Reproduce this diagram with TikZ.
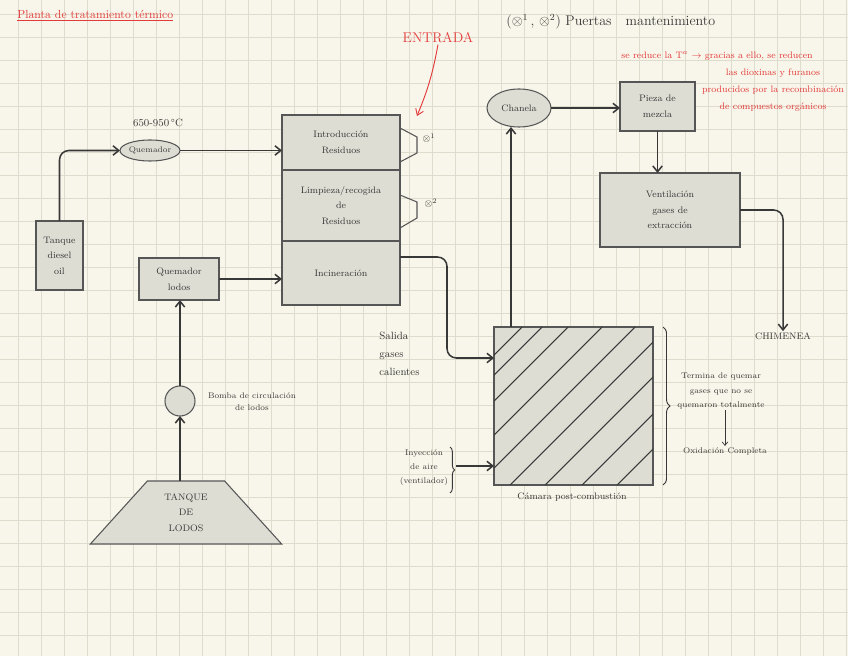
\documentclass[tikz,border=0pt]{standalone}
\usepackage{fontspec}
\usepackage{tikz}
\usetikzlibrary{shapes.geometric,arrows.meta,positioning,calc,decorations.pathreplacing}
\usepackage{xcolor}
\definecolor{PaperBg}{HTML}{F8F6EA}
\definecolor{GridLine}{HTML}{DEDCCC}
\definecolor{BoxFill}{HTML}{DEDDD4}
\definecolor{InkGrey}{HTML}{383838}
\definecolor{NoteRed}{HTML}{E23B3B}

\begin{document}
\begin{tikzpicture}[x=0.03cm,y=-0.03cm,
  unit/.style={draw=InkGrey!85,line width=0.9pt,fill=BoxFill,align=center,
               font={\footnotesize\linespread{1.4}\selectfont},text=InkGrey,
               inner sep=0pt,outer sep=0pt},
  hand/.style={align=center,font={\footnotesize\linespread{1.4}\selectfont},
               text=InkGrey,inner sep=1pt},
  note/.style={align=center,font=\footnotesize,text=NoteRed,inner sep=1pt},
  flow/.style={draw=InkGrey,line width=1.3pt,rounded corners=8pt,
               -{Straight Barb[length=5pt,width=8pt]}},
]
% paper
\useasboundingbox (0,0) rectangle (848,656);
\fill[PaperBg] (0,0) rectangle (848,656);
\foreach \gx in {18.3,41.3,...,848} \draw[GridLine,line width=0.5pt] (\gx,0) -- (\gx,656);
\foreach \gy in {14,37,...,656} \draw[GridLine,line width=0.5pt] (0,\gy) -- (848,\gy);

% headings
\node[note,font=\normalsize,anchor=west] (title) at (16,16) {\underline{Planta de tratamiento térmico}};
\node[hand,font=\large,anchor=west] (legend) at (505,22) {($\otimes^1$\,, $\otimes^2$) Puertas\quad mantenimiento};
\node[note,font=\large] (entry) at (438,38) {ENTRADA};
\node[note,anchor=west] (cool1) at (620,56) {se reduce la T$^{a}$ $\rightarrow$ gracias a ello, se reducen};
\node[note,font={\footnotesize\linespread{1.5}\selectfont}] (cool2) at (773,90) {las dioxinas y furanos\\producidos por la recombinación\\de compuestos orgánicos};

% burner line
\node[unit,minimum width=1.41cm,minimum height=2.07cm] (diesel) at (59.5,255.5) {Tanque\\diesel\\oil};
\node[unit,ellipse,minimum width=1.44cm,minimum height=0.63cm,font=\scriptsize] (burner) at (150,150.5) {Quemador};
\node[hand,font=\small] (temp) at (158,123) {650-950\,°C};

% furnace
\node[unit,minimum width=3.54cm,minimum height=1.65cm] (intro) at (341,142.5) {Introducción\\Residuos};
\node[unit,minimum width=3.54cm,minimum height=2.13cm,below=0pt of intro] (clean) {Limpieza/recogida\\de\\Residuos};
\node[unit,minimum width=3.54cm,minimum height=1.92cm,below=0pt of clean] (incin) {Incineración};
\draw[draw=InkGrey!85,line width=0.9pt] (intro.east) ++(0,-14.5) -- ++(17,9) -- ++(0,16) -- ++(-17,9);
\draw[draw=InkGrey!85,line width=0.9pt] (clean.east) ++(0,-10.5) -- ++(17,7) -- ++(0,16) -- ++(-17,10);
\node[hand] (door1) at (429,138) {$\otimes^1$};
\node[hand] (door2) at (431,203) {$\otimes^2$};

% sludge line
\node[unit,minimum width=2.4cm,minimum height=1.26cm] (sludgeburner) at (179,279) {Quemador\\lodos};
\node[unit,circle,minimum size=0.9cm] (pump) at (180,401) {};
\node[hand,font={\scriptsize\linespread{1.3}\selectfont}] (pumplabel) at (252,402) {Bomba de circulación\\de lodos};
\node[unit,trapezium,trapezium left angle=50,trapezium right angle=50,trapezium stretches=true,
      minimum width=5.76cm,minimum height=1.89cm] (tank) at (186,512.5) {TANQUE\\DE\\LODOS};

% post-combustion
\node[unit,minimum width=4.77cm,minimum height=4.74cm] (chamber) at (573.5,406) {};
\begin{scope}
  \clip (chamber.south west) rectangle (chamber.north east);
  \foreach \c in {849,869,895,929,962,995,1030,1067,1102}
    \draw[InkGrey,line width=0.9pt] (\c-485,485) -- (\c-327,327);
\end{scope}
\node[hand] (chamberlabel) at (572,497) {Cámara post-combustión};
\node[hand,anchor=west,align=left,font={\small\linespread{1.4}\selectfont}] (hotgas) at (378,354) {Salida\\gases\\calientes};
\node[hand,font={\scriptsize\linespread{1.5}\selectfont}] (air) at (424,468) {Inyección\\de aire\\(ventilador)};
\draw[InkGrey,line width=0.8pt,decorate,decoration={brace,amplitude=4pt}] (450,447) -- (450,493);
\coordinate (airtip) at (456,466);
\draw[InkGrey,line width=0.8pt,decorate,decoration={brace,amplitude=6pt}] ($(chamber.north east)+(10,0)$) -- ($(chamber.south east)+(10,0)$);
\node[hand,font={\scriptsize\linespread{1.5}\selectfont}] (burnout) at (721,391) {Termina de quemar\\gases que no se\\quemaron totalmente};
\node[hand,font=\scriptsize] (oxid) at (725,451) {Oxidación Completa};

% gas cleaning
\node[unit,ellipse,minimum width=1.92cm,minimum height=1.14cm] (chanela) at (519,108) {Chanela};
\node[unit,minimum width=2.25cm,minimum height=1.47cm] (mixer) at (657.5,106.5) {Pieza de\\mezcla};
\node[unit,minimum width=4.2cm,minimum height=2.22cm] (fan) at (670,210) {Ventilación\\gases de\\extracción};
\node[hand] (stack) at (783,336) {CHIMENEA};

% connections
\draw[flow] (diesel.north) |- (burner.west);
\draw[flow] (burner.east) -- (burner.east -| intro.west);
\draw[flow] (sludgeburner.east) -- (sludgeburner.east -| incin.west);
\draw[flow] (pump.north) -- (pump.north |- sludgeburner.south);
\draw[flow] (pump.south |- tank.north) -- (pump.south);
\draw[flow] ($(incin.east)+(0,-16)$) -| ($(chamber.west)+(-47,-48)$) -- ($(chamber.west)+(0,-48)$);
\draw[flow] (airtip) -- (airtip -| chamber.west);
\draw[flow] ($(chamber.north west)+(17,0)$) -- ($(chanela.south)+(-8,0)$);
\draw[flow] (chanela.east) -- (chanela.east -| mixer.west);
\draw[flow] (mixer.south) -- (mixer.south |- fan.north);
\draw[flow] (fan.east) -| (stack.north);
\draw[InkGrey,line width=0.6pt,-{Straight Barb[length=3pt,width=5pt]}] (burnout.south -| oxid.north) -- (oxid.north);
\draw[NoteRed,line width=0.8pt,-{Straight Barb[length=5pt,width=7pt]}] (entry.south) to[bend left=6] ($(intro.north east)+(17,1)$);
\end{tikzpicture}
\end{document}
